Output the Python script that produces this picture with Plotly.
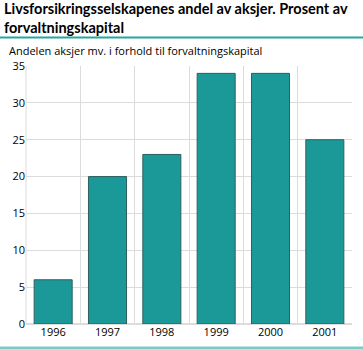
import plotly.graph_objects as go

years = ["1996", "1997", "1998", "1999", "2000", "2001"]
shares = [6, 20, 23, 34, 34, 25]
y_ticks = [0, 5, 10, 15, 20, 25, 30, 35]

title_lines = ["Livsforsikringsselskapenes andel av aksjer. Prosent av",
               "forvaltningskapital"]
subtitle = "Andelen aksjer mv. i forhold til forvaltningskapital"

W, H = 363, 350
ML, MR, MT, MB = 26, 11, 66, 26
PW, PH = W - ML - MR, H - MT - MB


def px_x(px):
    return (px - ML) / PW


def px_y(py):
    return (H - MB - py) / PH


FONT = "Open Sans"
TITLE_FONT = "Lato"

fig = go.Figure(
    go.Bar(
        x=years,
        y=shares,
        marker=dict(color="#1b9898", line=dict(color="#2f5f5f", width=1)),
        hoverinfo="x+y",
    )
)

annotations = [
    dict(
        text="<b>" + "<br>".join(title_lines) + "</b>",
        xref="paper", yref="paper",
        x=px_x(2), y=px_y(18.5),
        xanchor="left", yanchor="middle", align="left",
        showarrow=False,
        font=dict(family=TITLE_FONT, size=14.5, color="#000000"),
    ),
    dict(
        text=subtitle,
        xref="paper", yref="paper",
        x=px_x(7), y=px_y(51),
        xanchor="left", yanchor="middle", align="left",
        showarrow=False,
        font=dict(family=FONT, size=11, color="#000000"),
    ),
]

fig.update_layout(
    width=W,
    height=H,
    margin=dict(l=ML, r=MR, t=MT, b=MB),
    paper_bgcolor="white",
    plot_bgcolor="white",
    bargap=0.3,
    showlegend=False,
    font=dict(family=FONT, size=11, color="#000000"),
    xaxis=dict(
        type="category",
        tickson="boundaries",
        showgrid=True,
        gridcolor="#dcdcdc",
        gridwidth=1,
        ticks="",
        showline=False,
        tickfont=dict(size=11),
        fixedrange=True,
    ),
    yaxis=dict(
        range=[0, 35],
        tickvals=y_ticks,
        showgrid=True,
        gridcolor="#dcdcdc",
        gridwidth=1,
        zeroline=True,
        zerolinecolor="#dcdcdc",
        ticks="",
        showline=False,
        tickfont=dict(size=11),
        fixedrange=True,
    ),
    annotations=annotations,
    shapes=[
        dict(type="line", xref="paper", yref="paper",
             x0=px_x(0), x1=px_x(W), y0=px_y(37.5), y1=px_y(37.5),
             line=dict(color="#2aa3a3", width=2)),
        dict(type="line", xref="paper", yref="paper",
             x0=px_x(0), x1=px_x(W), y0=px_y(348), y1=px_y(348),
             line=dict(color="#7fcac6", width=3)),
        dict(type="line", xref="paper", yref="paper",
             x0=0, x1=0, y0=0, y1=1,
             line=dict(color="#dcdcdc", width=1)),
    ],
)

fig.write_html("out.html")
